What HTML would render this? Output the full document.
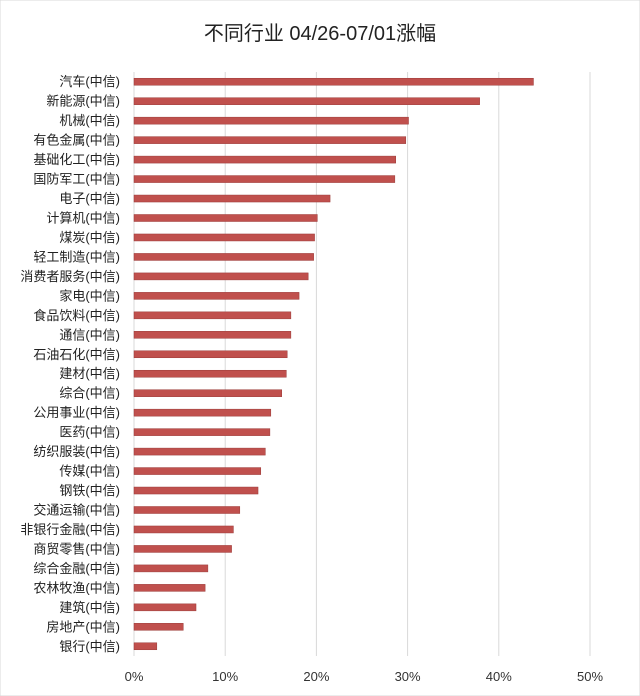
<!DOCTYPE html>
<html><head><meta charset="utf-8">
<style>
body{margin:0;background:#fff;}
svg{display:block;font-family:"Liberation Sans","Noto Sans CJK SC",sans-serif;}
</style></head>
<body>
<svg id="chart" width="640" height="696">
<rect x="0" y="0" width="640" height="696" fill="#fff" stroke="#d9d9d9"/>
<text x="320" y="40" text-anchor="middle" font-size="20" fill="#222">不同行业 04/26-07/01涨幅</text>
<g id="grid"></g><g id="bars"></g><g id="ylabels"></g><g id="xlabels"></g>
</svg>
<script>
const categories=["汽车(中信)","新能源(中信)","机械(中信)","有色金属(中信)","基础化工(中信)","国防军工(中信)","电子(中信)","计算机(中信)","煤炭(中信)","轻工制造(中信)","消费者服务(中信)","家电(中信)","食品饮料(中信)","通信(中信)","石油石化(中信)","建材(中信)","综合(中信)","公用事业(中信)","医药(中信)","纺织服装(中信)","传媒(中信)","钢铁(中信)","交通运输(中信)","非银行金融(中信)","商贸零售(中信)","综合金融(中信)","农林牧渔(中信)","建筑(中信)","房地产(中信)","银行(中信)"];
const values=[43.8,37.9,30.1,29.8,28.7,28.6,21.5,20.1,19.8,19.7,19.1,18.1,17.2,17.2,16.8,16.7,16.2,15.0,14.9,14.4,13.9,13.6,11.6,10.9,10.7,8.1,7.8,6.8,5.4,2.5];
const ticks=[0,10,20,30,40,50];
const ns="http://www.w3.org/2000/svg";
const x0=134,x1=590,xmax=50,yTop=72,yBottom=656;
const xs=v=>x0+(x1-x0)*v/xmax;
const band=(yBottom-yTop)/categories.length;
const yc=i=>yTop+band*(i+0.5);
const grid=document.getElementById('grid'),bars=document.getElementById('bars'),yl=document.getElementById('ylabels'),xl=document.getElementById('xlabels');
ticks.forEach(t=>{
 const l=document.createElementNS(ns,'line');
 l.setAttribute('x1',xs(t));l.setAttribute('x2',xs(t));l.setAttribute('y1',yTop);l.setAttribute('y2',yBottom);
 l.setAttribute('stroke','#d9d9d9');l.setAttribute('stroke-width','1');
 
 
 grid.appendChild(l);
 const tx=document.createElementNS(ns,'text');
 tx.setAttribute('x',xs(t));tx.setAttribute('y',681);tx.setAttribute('text-anchor','middle');tx.setAttribute('font-size','13');tx.setAttribute('fill','#333');
 tx.textContent=t+'%';
 
 
 xl.appendChild(tx);
});
categories.forEach((c,i)=>{
 const r=document.createElementNS(ns,'rect');
 r.setAttribute('x',xs(0));r.setAttribute('y',yc(i)-3.5);r.setAttribute('width',xs(values[i])-xs(0));r.setAttribute('height',7);
 r.setAttribute('fill','#c0504d');r.setAttribute('stroke','#9b3b39');r.setAttribute('stroke-width','0.5');
 
 
 bars.appendChild(r);
 const t=document.createElementNS(ns,'text');
 t.setAttribute('x',120);t.setAttribute('y',yc(i)+4.5);t.setAttribute('text-anchor','end');t.setAttribute('font-size','13');t.setAttribute('fill','#222');
 t.textContent=c;
 
 
 yl.appendChild(t);
});
</script>
</body></html>
